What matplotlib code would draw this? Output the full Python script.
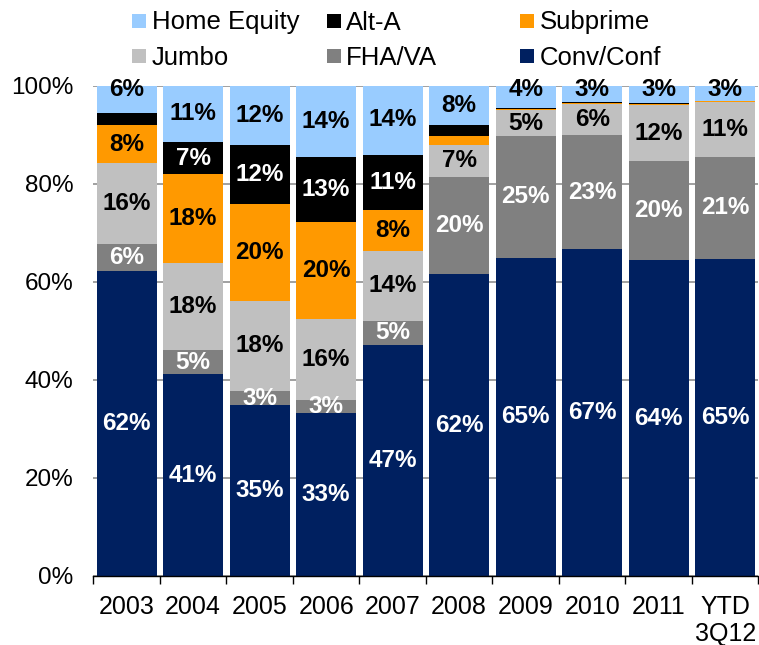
import matplotlib
matplotlib.use('Agg')
import matplotlib.pyplot as plt
from matplotlib.lines import Line2D
import numpy as np

plt.rcParams['font.family'] = ['Liberation Sans', 'DejaVu Sans']

# values in % of originations, stacked bottom -> top
years = ['2003', '2004', '2005', '2006', '2007', '2008', '2009', '2010', '2011', 'YTD\n3Q12']
conv_conf = [62.2, 41.2, 34.8, 33.3, 47.1, 61.6, 65.0, 66.7, 64.4, 64.7]
fha_va = [5.6, 4.9, 3.0, 2.7, 5.0, 19.8, 24.8, 23.3, 20.2, 20.9]
jumbo = [16.5, 17.8, 18.4, 16.4, 14.3, 6.6, 5.2, 6.4, 11.6, 11.1]
subprime = [7.7, 18.1, 19.7, 19.9, 8.3, 1.7, 0.4, 0.15, 0.15, 0.15]
alt_a = [2.4, 6.6, 12.1, 13.3, 11.2, 2.4, 0.2, 0.15, 0.15, 0.15]
home_equity = [5.6, 11.4, 12.0, 14.4, 14.4, 8.0, 4.4, 3.3, 3.4, 3.0]

series = [
    ('Conv/Conf', conv_conf, '#002060', 'white'),
    ('FHA/VA', fha_va, '#808080', 'white'),
    ('Jumbo', jumbo, '#C0C0C0', 'black'),
    ('Subprime', subprime, '#FF9900', 'black'),
    ('Alt-A', alt_a, '#000000', 'white'),
    ('Home Equity', home_equity, '#99CCFF', 'black'),
]

W, H = 759, 645
fig = plt.figure(figsize=(W / 100, H / 100), dpi=100)
ax = fig.add_axes([93.4 / W, 1 - 576 / H, 665 / W, 490 / H])

x = np.arange(len(years))
bottom = np.zeros(len(years))
for idx, (name, vals, col, tcol) in enumerate(series):
    vals = np.array(vals)
    ax.bar(x, vals, 0.9, bottom=bottom, color=col, edgecolor='none', zorder=2)
    for i in range(len(x)):
        if round(vals[i]) < 3:
            continue
        yc = bottom[i] + vals[i] / 2
        if idx == len(series) - 1 and vals[i] < 7:
            yc = 99.2
        ax.text(x[i], yc, '%d%%' % round(vals[i]), ha='center', va='center',
                color=tcol, fontsize=17.5, fontweight='bold', zorder=3)
    bottom += vals

ax.set_xlim(-0.5, len(years) - 0.5)
ax.set_ylim(0, 100)
ax.set_yticks(np.arange(0, 101, 20))
ax.set_yticklabels(['%d%%' % v for v in range(0, 101, 20)])
ax.yaxis.grid(True, color='#868686', lw=1.1)
ax.set_axisbelow(True)
ax.tick_params(axis='y', length=0, pad=14.5, labelsize=17.5)

ax.set_xticks(x)
ax.set_xticklabels(years)
ax.set_xticks(np.arange(-0.5, len(years)), minor=True)
ax.tick_params(axis='x', which='major', length=0, pad=13.5, labelsize=18)
ax.tick_params(axis='x', which='minor', length=6, width=1, color='black', direction='out')
for lbl in ax.get_xticklabels():
    lbl.set_linespacing(1.18)

for s in ['left', 'right', 'top']:
    ax.spines[s].set_visible(False)
ax.spines['bottom'].set_color('black')
ax.spines['bottom'].set_linewidth(1)

# legend: three columns of two rows, equal column widths like the original
colors = {name: col for name, vals, col, tcol in series}
columns = [('Home Equity', 'Jumbo'), ('Alt-A', 'FHA/VA'), ('Subprime', 'Conv/Conf')]
col_x = [132, 326.5, 520]
for cx, names in zip(col_x, columns):
    handles = [Line2D([], [], marker='s', ls='', markersize=9.8, markeredgewidth=0,
                      color=colors[n]) for n in names]
    leg = fig.legend(handles, names, loc='upper left', bbox_to_anchor=(cx / W, 1 - 10.5 / H),
                     bbox_transform=fig.transFigure, frameon=False, fontsize=18.5,
                     handlelength=0.56, handletextpad=0.2, labelspacing=0.45,
                     borderpad=0, borderaxespad=0)

fig.savefig('out.png', dpi=100)
